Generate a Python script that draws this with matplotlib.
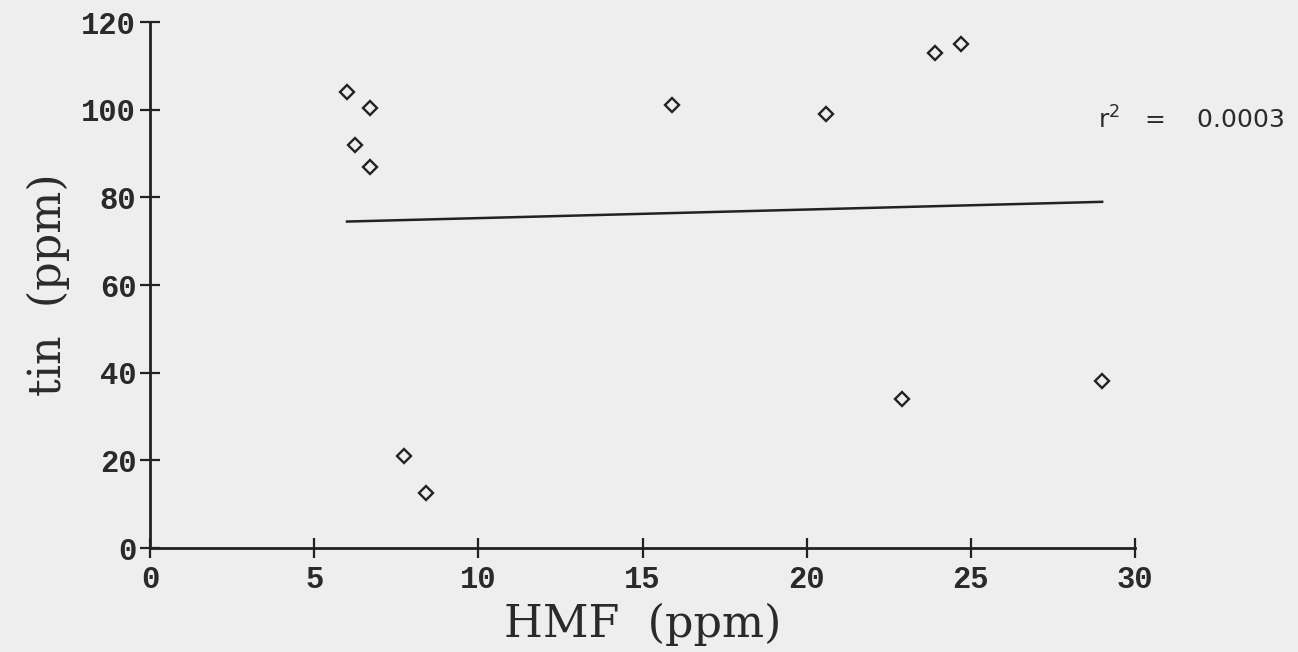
import matplotlib
matplotlib.use("Agg")
import matplotlib.pyplot as plt
import numpy as np

# Data
hmf_ppm = [6.0, 6.7, 6.25, 6.7, 7.75, 8.4, 15.9, 20.6, 23.9, 24.7, 22.9, 29.0]
tin_ppm = [104, 100.5, 92, 87, 21, 12.5, 101, 99, 113, 115, 34, 38]
fit_x = [6.0, 29.0]
fit_y = [74.5, 79.0]
x_ticks = [0, 5, 10, 15, 20, 25, 30]
y_ticks = [0, 20, 40, 60, 80, 100, 120]
r2_label = "r$^{2}$   =    0.0003"

bg = "#eeeeee"
fig = plt.figure(figsize=(12.98, 6.52), dpi=100, facecolor=bg)
ax = fig.add_axes([0.1156, 0.1595, 0.7588, 0.8065])
ax.set_facecolor(bg)

ax.plot(hmf_ppm, tin_ppm, linestyle="none", marker="D", markersize=7.5,
        markerfacecolor="none", markeredgecolor="#222222", markeredgewidth=1.7)
ax.plot(fit_x, fit_y, color="#222222", linewidth=1.8)

ax.set_xlim(0, 30)
ax.set_ylim(0, 120)
ax.set_xticks(x_ticks)
ax.set_yticks(y_ticks)
for s in ["top", "right"]:
    ax.spines[s].set_visible(False)
for s in ["left", "bottom"]:
    ax.spines[s].set_linewidth(2.0)
    ax.spines[s].set_color("#222222")

ax.tick_params(direction="inout", length=14, width=1.6, colors="#222222",
               labelsize=22, pad=3)
ax.tick_params(axis="x", pad=5)
for lab in ax.get_xticklabels() + ax.get_yticklabels():
    lab.set_family("Liberation Mono")
    lab.set_fontweight("bold")
    lab.set_color("#2a2a2a")

ax.set_xlabel("HMF  (ppm)", family="DejaVu Serif", fontsize=32, color="#2a2a2a", labelpad=6)
ax.set_ylabel("tin  (ppm)", family="DejaVu Serif", fontsize=32, color="#2a2a2a", labelpad=8)

ax.text(1.152, 0.813, r2_label, transform=ax.transAxes, ha="right", va="center",
        fontsize=18, family="DejaVu Sans", color="#2a2a2a", clip_on=False)

fig.savefig("out.png", dpi=100, facecolor=bg)
